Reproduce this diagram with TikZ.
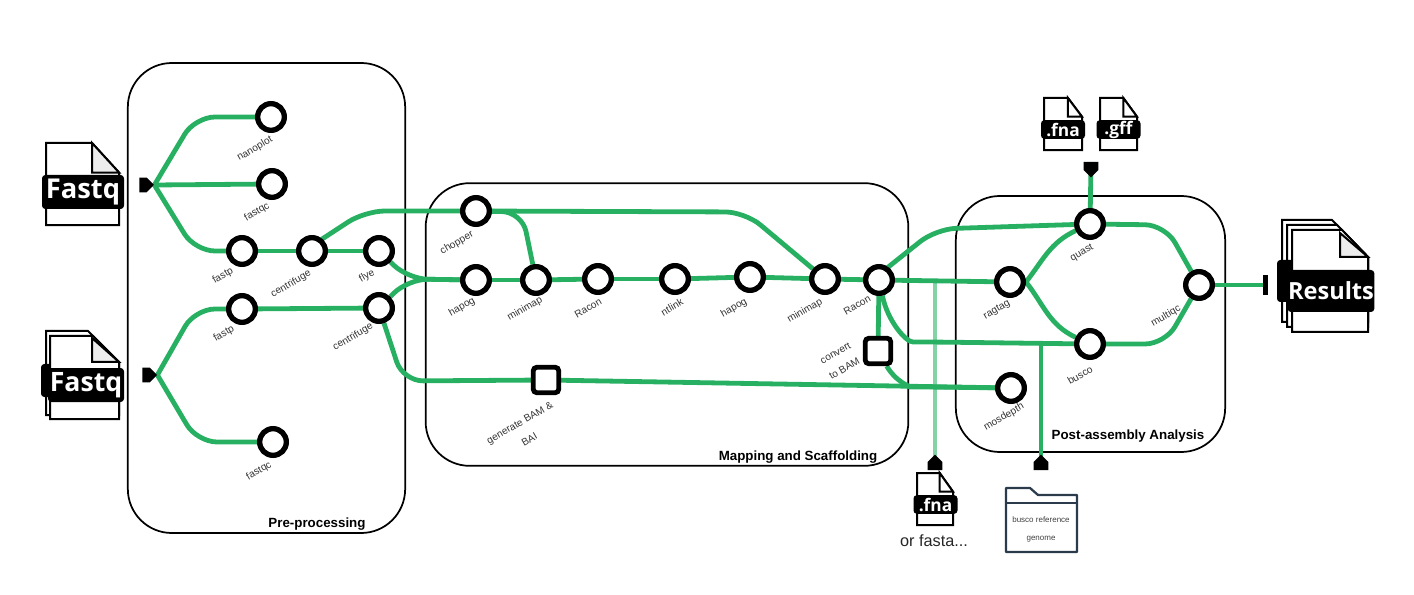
\documentclass[tikz,border=0pt]{standalone}
\usepackage{fontspec}
\setmainfont{Liberation Sans}
\newfontfamily\iconfont{Open Sans}
\usetikzlibrary{shapes,calc,backgrounds}
\definecolor{metrogreen}{HTML}{27B062}
\definecolor{metrolight}{HTML}{84D3A6}
\definecolor{folderblue}{HTML}{2C3B4C}
\tikzset{
  station/.style={circle, draw=black, fill=white, line width=4pt, minimum size=20pt, inner sep=0pt},
  squarestation/.style={rectangle, rounded corners=2.5pt, draw=black, fill=white, line width=3.6pt, minimum size=19pt, inner sep=0pt},
  stationlabel/.style={rotate=30, font=\fontsize{7.6}{9.5}\selectfont, text=black!80, inner sep=0pt, align=center},
  grouptitle/.style={font=\fontsize{10}{12}\selectfont\bfseries, inner sep=0pt},
  groupbox/.style={rectangle, draw=black, line width=1.3pt, rounded corners=33pt, inner sep=0pt},
  metro/.style={draw=metrogreen, line width=3.6pt, rounded corners=15pt},
  terminus/.style={signal, fill=black, inner sep=0pt, minimum width=11pt, minimum height=11pt},
  upright/.style={minimum height=6pt},
  pageline/.style={draw=black, line width=1.5pt},
  docband/.style={fill=black, rounded corners=2.5pt, text=white, inner sep=0pt, font=\iconfont\bfseries}
}
% page of a file icon: fold colour, left, top, width, height
\newcommand{\docpage}[5][white]{
  \begin{scope}[shift={(#2,#3)}, x={#4*0.0075pt}, y={-#5*0.0075pt}]
    \draw[pageline, fill=white] (0,0) -- (63,0) -- (100,36) -- (100,100) -- (0,100) -- cycle;
    \draw[pageline, fill=#1] (63,0) -- (63,36) -- (100,36) -- cycle;
  \end{scope}
}
\begin{document}
\begin{tikzpicture}[x=0.75pt, y=-0.75pt]
  \useasboundingbox (0,0) rectangle (1414,595);
  % Stations
  \node[station] (nanoplot) at (271,117) {};
  \node[station] (fastqcA) at (272,184) {};
  \node[station] (fastpA) at (242,251) {};
  \node[station] (centrifugeA) at (312,251) {};
  \node[station] (flye) at (379,251) {};
  \node[station] (fastpB) at (242,309) {};
  \node[station] (centrifugeB) at (379,308) {};
  \node[station] (fastqcB) at (273,442) {};
  \node[station] (chopper) at (476,211) {};
  \node[station] (hapogA) at (476,280) {};
  \node[station] (minimapA) at (536,280) {};
  \node[station] (raconA) at (598,279) {};
  \node[station] (ntlink) at (675,279) {};
  \node[station] (hapogB) at (750,277) {};
  \node[station] (minimapB) at (825,279) {};
  \node[station] (raconB) at (879,280) {};
  \node[station] (ragtag) at (1010,282) {};
  \node[station] (quast) at (1090,224) {};
  \node[station] (busco) at (1090,344) {};
  \node[station] (multiqc) at (1199,285) {};
  \node[station] (mosdepth) at (1011,388) {};
  \node[squarestation] (genbam) at (546,380) {};
  \node[squarestation] (convbam) at (878,351) {};
  % Labels
  \node[stationlabel] (nanoplotlabel) at (255,149) {nanoplot};
  \node[stationlabel] (fastqcAlabel) at (257,212) {fastqc};
  \node[stationlabel] (fastpAlabel) at (223,276) {fastp};
  \node[stationlabel] (centrifugeAlabel) at (291,284) {centrifuge};
  \node[stationlabel] (flyelabel) at (367,276) {flye};
  \node[stationlabel] (fastpBlabel) at (224,334) {fastp};
  \node[stationlabel] (centrifugeBlabel) at (353,337) {centrifuge};
  \node[stationlabel] (fastqcBlabel) at (259,471) {fastqc};
  \node[stationlabel] (chopperlabel) at (457,243) {chopper};
  \node[stationlabel] (hapogAlabel) at (462,307) {hapog};
  \node[stationlabel] (minimapAlabel) at (525,309) {minimap};
  \node[stationlabel] (raconAlabel) at (588,308) {Racon};
  \node[stationlabel] (ntlinklabel) at (672,307) {ntlink};
  \node[stationlabel] (hapogBlabel) at (734,308) {hapog};
  \node[stationlabel] (minimapBlabel) at (805,311) {minimap};
  \node[stationlabel] (raconBlabel) at (857,305) {Racon};
  \node[stationlabel] (ragtaglabel) at (997,310) {ragtag};
  \node[stationlabel] (quastlabel) at (1082,253) {quast};
  \node[stationlabel] (buscolabel) at (1080,375) {busco};
  \node[stationlabel] (multiqclabel) at (1166,316) {multiqc};
  \node[stationlabel] (mosdepthlabel) at (1004,417) {mosdepth};
  \node[stationlabel] (genbamlabel) at (524.5,431) {generate BAM \&\\[5pt]BAI};
  \node[stationlabel] (convbamlabel) at (840,361) {convert\\[4pt]to BAM};
  \node[grouptitle] (pretitle) at (317,524) {Pre-processing};
  \node[grouptitle] (maptitle) at (798,457) {Mapping and Scaffolding};
  \node[grouptitle] (posttitle) at (1128,436) {Post-assembly Analysis};
  % Termini
  \node[terminus, signal to=east] (fastqAend) at (143,185) {};
  \node[terminus, signal to=east] (fastqBend) at (146,375) {};
  \node[terminus, upright, signal to=south] (inputsend) at (1091,166) {};
  \node[terminus, upright, signal to=north] (fnaend) at (935,466) {};
  \node[terminus, upright, signal to=north] (refend) at (1041,466) {};
  \node[fill=black, inner sep=0pt, minimum width=3.8pt, minimum height=15pt] (resultsend) at (1265.5,285) {};
  % Files
  \docpage[black!7]{46}{143}{73}{82}
  \node[docband, minimum width=61.5pt, minimum height=25.5pt, font=\iconfont\bfseries\fontsize{20.5}{20.5}\selectfont] (fastqA) at (83,192) {Fastq};
  \draw[pageline, fill=white] (46,331) -- (88,331) -- (119,362) -- (119,415) -- (46,415) -- cycle;
  \fill[black, rounded corners=2.5pt] (41,364) rectangle (60,397);
  \draw[pageline, fill=white] (50,336) -- (93,336) -- (119,362) -- (119,419) -- (50,419) -- cycle;
  \draw[pageline, fill=black!7] (92,338) -- (92,362) -- (119,362) -- cycle;
  \node[docband, minimum width=57pt, minimum height=25.5pt, font=\iconfont\bfseries\fontsize{20}{20}\selectfont] (fastqB) at (86,385) {Fastq};
  \draw[pageline, fill=white] (1282,220) -- (1332,220) -- (1368,257) -- (1368,322) -- (1282,322) -- cycle;
  \draw[pageline, fill=white] (1287,225) -- (1337,225) -- (1368,257) -- (1368,327) -- (1287,327) -- cycle;
  \fill[black, rounded corners=2.5pt] (1277,260) rectangle (1300,302);
  \draw[pageline, fill=white] (1292,230) -- (1342,230) -- (1368,257) -- (1368,332) -- (1292,332) -- cycle;
  \draw[pageline, fill=black!7] (1340,233) -- (1340,257) -- (1368,257) -- cycle;
  \node[docband, minimum width=65pt, minimum height=31.5pt, font=\iconfont\bfseries\fontsize{17.7}{17.7}\selectfont] (results) at (1331,291) {Results};
  \docpage{1044}{98}{38}{52}
  \node[docband, minimum width=33pt, minimum height=14pt, font=\iconfont\bfseries\fontsize{13}{13}\selectfont] (fnatop) at (1063,129.5) {.fna};
  \docpage{1100}{98}{37}{52}
  \node[docband, minimum width=33pt, minimum height=14pt, font=\iconfont\bfseries\fontsize{13}{13}\selectfont] (gfftop) at (1118.5,129.5) {.gff};
  \docpage{917}{473}{36}{52}
  \node[docband, minimum width=33pt, minimum height=14pt, font=\iconfont\bfseries\fontsize{13}{13}\selectfont] (fnabottom) at (935.5,504.5) {.fna};
  \node[inner sep=0pt, font=\fontsize{12.2}{14}\selectfont, text=black!85] (orfasta) at (934,541) {or fasta...};
  % Folder
  \draw[draw=folderblue, line width=1.7pt, line join=round] (1006,503) -- (1006,488) -- (1030,488) -- (1038,495) -- (1077,495) -- (1077,552) -- (1006,552) -- cycle;
  \draw[draw=folderblue, line width=1.7pt] (1006,503) -- (1077,503);
  \node[inner sep=0pt, font=\fontsize{6}{7}\selectfont, text=black!75] (reflabelA) at (1041,520) {busco reference};
  \node[inner sep=0pt, font=\fontsize{6}{7}\selectfont, text=black!75] (reflabelB) at (1041,539) {genome};
  % Junctions
  \coordinate (fnajoin) at (935,283);
  \coordinate (refjoin) at (1041,343);
  \coordinate (mergejoin) at (408,279);
  \coordinate (forkbam) at (403,381);
  \coordinate (buscoflat) at (933,342);
  \coordinate (bamflat) at (930,387);
  \begin{scope}[on background layer]
    % Groups
    \node[groupbox, minimum width=208pt, minimum height=352.5pt] (preprocessing) at (266.5,298) {};
    \node[groupbox, minimum width=362pt, minimum height=212pt] (mapping) at (667,324.5) {};
    \node[groupbox, minimum width=202pt, minimum height=192pt] (postassembly) at (1090.5,324) {};
    % Edges
    \draw[metro, draw=metrolight] (fnajoin) -- (fnaend.center);
    \draw[metro] (fastqAend.east) -- (195,117) -- (nanoplot);
    \draw[metro] (fastqAend.east) -- (fastqcA);
    \draw[metro] (fastqAend.east) -- (195,251) -- (fastpA);
    \draw[metro] (fastpA) -- (centrifugeA);
    \draw[metro] (centrifugeA) -- (flye);
    \draw[metro] ([shift={(4,-8)}]centrifugeA.center) -- (365,211) -- (chopper);
    \draw[metro] (chopper) -- (745,212) -- (minimapB);
    \draw[metro] (chopper) -- (522,212) -- (minimapA);
    \draw[metro] (flye) -- (mergejoin) -- (hapogA);
    \draw[metro] (centrifugeB) -- (mergejoin) -- (hapogA);
    \draw[metro] (hapogA) -- (minimapA);
    \draw[metro] (minimapA) -- (raconA);
    \draw[metro] (raconA) -- (ntlink);
    \draw[metro] (ntlink) -- (hapogB);
    \draw[metro] (hapogB) -- (minimapB);
    \draw[metro] (minimapB) -- (raconB);
    \draw[metro] (raconB) -- (ragtag);
    \draw[metro] ([shift={(3,-8)}]raconB.center) -- (936,229) -- (quast);
    \draw[metro] (raconB) -- (convbam);
    \draw[metro] (raconB) to[out=-78, in=180] (buscoflat) -- (busco);
    \draw[metro] (convbam) to[out=-60, in=180] (bamflat) -- (mosdepth);
    \draw[metro] (genbam) -- (mosdepth);
    \draw[metro] (fastqBend.east) -- (195,309) -- (fastpB);
    \draw[metro] (fastqBend.east) -- (197,442) -- (fastqcB);
    \draw[metro] (fastpB) -- (centrifugeB);
    \draw[metro] (centrifugeB) -- (forkbam) -- (genbam);
    \draw[metro] (ragtag.east) to[out=52, in=205] (quast);
    \draw[metro] (ragtag.east) to[out=-52, in=155] (busco);
    \draw[metro] (quast) -- (1165,225) -- (multiqc);
    \draw[metro] (busco) -- (1165,344) -- (multiqc);
    \draw[metro] (multiqc) -- (resultsend);
    \draw[metro] (inputsend.center) -- (quast);
    \draw[metro] (refjoin) -- (refend.center);
  \end{scope}
\end{tikzpicture}
\end{document}
